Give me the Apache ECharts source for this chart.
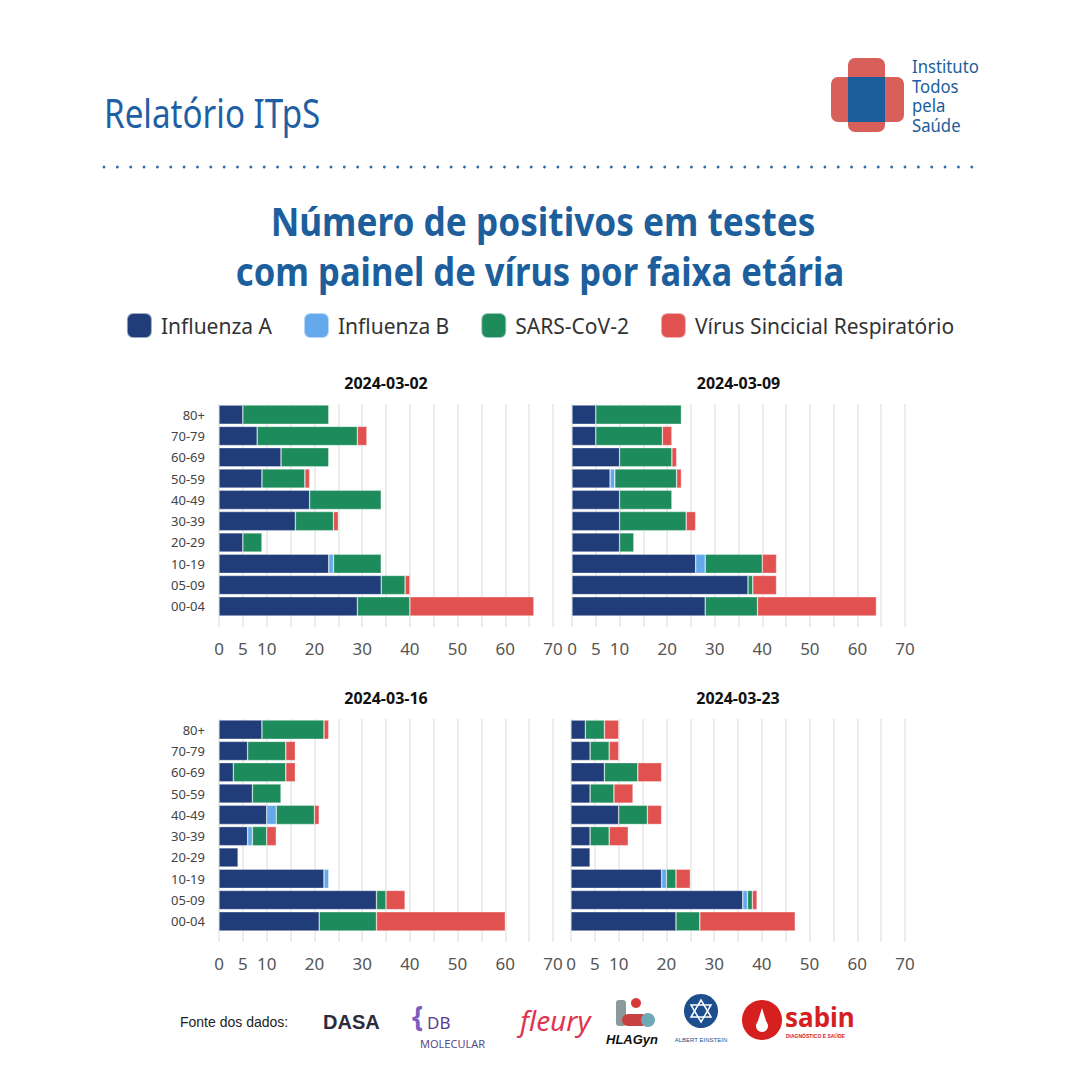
<!DOCTYPE html>
<html>
<head>
<meta charset="utf-8">
<title>Relatório ITpS</title>
<script src="https://cdn.jsdelivr.net/npm/echarts@6/dist/echarts.min.js"></script>
<style>
html, body { margin: 0; padding: 0; background: #fff; }
#main { width: 1080px; height: 1080px; }
</style>
</head>
<body>
<div id="main"></div>
<script>
// faixas etárias, de baixo (00-04) para cima (80+)
var ageGroups = ['00-04', '05-09', '10-19', '20-29', '30-39', '40-49', '50-59', '60-69', '70-79', '80+'];
var weeks = ['2024-03-02', '2024-03-09', '2024-03-16', '2024-03-23'];
var virusNames = ['Influenza A', 'Influenza B', 'SARS-CoV-2', 'Vírus Sincicial Respiratório'];
// rótulos mostrados no eixo x
var xTickLabels = [0, 5, 10, 20, 30, 40, 50, 60, 70];

// semana 2024-03-02
var fluA_0302 = [29, 34, 23, 5, 16, 19, 9, 13, 8, 5];
var fluB_0302 = [0, 0, 1, 0, 0, 0, 0, 0, 0, 0];
var sars_0302 = [11, 5, 10, 4, 8, 15, 9, 10, 21, 18];
var vsr_0302  = [26, 1, 0, 0, 1, 0, 1, 0, 2, 0];

// semana 2024-03-09
var fluA_0309 = [28, 37, 26, 10, 10, 10, 8, 10, 5, 5];
var fluB_0309 = [0, 0, 2, 0, 0, 0, 1, 0, 0, 0];
var sars_0309 = [11, 1, 12, 3, 14, 11, 13, 11, 14, 18];
var vsr_0309  = [25, 5, 3, 0, 2, 0, 1, 1, 2, 0];

// semana 2024-03-16
var fluA_0316 = [21, 33, 22, 4, 6, 10, 7, 3, 6, 9];
var fluB_0316 = [0, 0, 1, 0, 1, 2, 0, 0, 0, 0];
var sars_0316 = [12, 2, 0, 0, 3, 8, 6, 11, 8, 13];
var vsr_0316  = [27, 4, 0, 0, 2, 1, 0, 2, 2, 1];

// semana 2024-03-23
var fluA_0323 = [22, 36, 19, 4, 4, 10, 4, 7, 4, 3];
var fluB_0323 = [0, 1, 1, 0, 0, 0, 0, 0, 0, 0];
var sars_0323 = [5, 1, 2, 0, 4, 6, 5, 7, 4, 4];
var vsr_0323  = [20, 1, 3, 0, 4, 3, 4, 5, 2, 3];

var weekData = [
    [fluA_0302, fluB_0302, sars_0302, vsr_0302],
    [fluA_0309, fluB_0309, sars_0309, vsr_0309],
    [fluA_0316, fluB_0316, sars_0316, vsr_0316],
    [fluA_0323, fluB_0323, sars_0323, vsr_0323]
];

var virusColors = ['#203d7a', '#64a9ec', '#1d8b5b', '#e15150'];
var blue = '#1f5fa3';
var font = "'Noto Sans', sans-serif";

// posição de cada painel
var panels = [
    { left: 219, top: 404, width: 334 },
    { left: 572, top: 404, width: 333 },
    { left: 219, top: 719, width: 334 },
    { left: 571, top: 719, width: 334 }
];

var grids = [], xAxes = [], yAxes = [], series = [];
var graphics = [];

panels.forEach(function (p, i) {
    grids.push({ left: p.left, top: p.top, width: p.width, height: 213, containLabel: false });
    xAxes.push({
        type: 'value', gridIndex: i, min: 0, max: 70, interval: 5,
        axisLine: { show: false },
        axisTick: { show: true, length: 10, lineStyle: { color: '#e6e6e6', width: 1.5 } },
        splitLine: { show: true, lineStyle: { color: '#e6e6e6', width: 1.5 } },
        axisLabel: {
            margin: 23, fontSize: 17, color: '#555', fontFamily: font,
            showMinLabel: true, showMaxLabel: true,
            formatter: function (v) { return xTickLabels.indexOf(v) >= 0 ? String(v) : ''; }
        }
    });
    yAxes.push({
        type: 'category', gridIndex: i, data: ageGroups,
        axisLine: { show: false }, axisTick: { show: false }, splitLine: { show: false },
        axisLabel: { show: i % 2 === 0, margin: 14, fontSize: 13, color: '#444', fontFamily: font }
    });
    weekData[i].forEach(function (arr, v) {
        series.push({
            name: virusNames[v], type: 'bar', stack: 'semana' + i,
            xAxisIndex: i, yAxisIndex: i,
            barCategoryGap: '10%',
            itemStyle: { color: virusColors[v], borderColor: 'rgba(255,255,255,0.55)', borderWidth: 0.6 },
            data: arr.map(function (d) { return d === 0 ? null : d; })
        });
    });
    // título de cada painel
    graphics.push({
        type: 'text', x: p.left + p.width / 2, y: p.top - 21,
        style: { text: weeks[i], fill: '#111', font: 'bold 16px ' + font, textAlign: 'center', textVerticalAlign: 'middle' }
    });
});

// cabeçalho
graphics.push({
    type: 'text', x: 104, y: 113, scaleX: 0.83,
    style: { text: 'Relatório ITpS', fill: blue, font: '40px ' + font, textAlign: 'left', textVerticalAlign: 'middle' }
});
// logo: cruz
graphics.push({ type: 'rect', shape: { x: 831, y: 77, width: 73, height: 45, r: 7 }, style: { fill: '#d95f5a' } });
graphics.push({ type: 'rect', shape: { x: 848, y: 58, width: 37, height: 74, r: 7 }, style: { fill: '#d95f5a' } });
graphics.push({ type: 'rect', shape: { x: 848, y: 77, width: 37, height: 45 }, style: { fill: '#1b5e9b' } });
['Instituto', 'Todos', 'pela', 'Saúde'].forEach(function (t, k) {
    graphics.push({
        type: 'text', x: 912, y: 66 + k * 19.5, scaleX: 0.88,
        style: { text: t, fill: '#1b5e9b', font: '19px ' + font, textAlign: 'left', textVerticalAlign: 'middle' }
    });
});
// linha pontilhada
for (var dx = 104; dx <= 979; dx += 13.35) {
    graphics.push({ type: 'circle', shape: { cx: dx, cy: 167, r: 1.4 }, style: { fill: '#2a6aad' } });
}
// título principal
graphics.push({
    type: 'text', x: 543, y: 221, scaleX: 0.88,
    style: { text: 'Número de positivos em testes', fill: '#1d5f9c', font: 'bold 40px ' + font, textAlign: 'center', textVerticalAlign: 'middle' }
});
graphics.push({
    type: 'text', x: 540, y: 270, scaleX: 0.865,
    style: { text: 'com painel de vírus por faixa etária', fill: '#1d5f9c', font: 'bold 40px ' + font, textAlign: 'center', textVerticalAlign: 'middle' }
});

// rodapé: fontes dos dados
graphics.push({
    type: 'text', x: 180, y: 1022,
    style: { text: 'Fonte dos dados:', fill: '#222', font: "14px 'Liberation Sans', Arial, sans-serif", textAlign: 'left', textVerticalAlign: 'middle' }
});
graphics.push({
    type: 'text', x: 323, y: 1022,
    style: { text: 'DASA', fill: '#2b2b3b', font: "bold 20px 'Liberation Sans', sans-serif", textAlign: 'left', textVerticalAlign: 'middle' }
});
graphics.push({
    type: 'text', x: 412, y: 1016,
    style: { text: '{', fill: '#7b5cc0', font: 'bold 28px ' + font, textAlign: 'left', textVerticalAlign: 'middle' }
});
graphics.push({
    type: 'text', x: 427, y: 1022,
    style: { text: 'DB', fill: '#5a3d8e', font: '17px ' + font, textAlign: 'left', textVerticalAlign: 'middle' }
});
graphics.push({
    type: 'text', x: 420, y: 1043,
    style: { text: 'MOLECULAR', fill: '#5a4a8a', font: '11px ' + font, textAlign: 'left', textVerticalAlign: 'middle' }
});
graphics.push({
    type: 'text', x: 520, y: 1020,
    style: { text: 'fleury', fill: '#e0344f', font: "italic 28px 'Noto Sans', sans-serif", textAlign: 'left', textVerticalAlign: 'middle' }
});
graphics.push({ type: 'rect', shape: { x: 616, y: 1000, width: 10, height: 26, r: 3 }, style: { fill: '#8a9a9a' } });
graphics.push({ type: 'circle', shape: { cx: 636, cy: 1003, r: 5 }, style: { fill: '#d63a3a' } });
graphics.push({ type: 'rect', shape: { x: 622, y: 1014, width: 26, height: 12, r: 6 }, style: { fill: '#c94040' } });
graphics.push({ type: 'circle', shape: { cx: 648, cy: 1020, r: 7 }, style: { fill: '#6fa9b5' } });
graphics.push({
    type: 'text', x: 606, y: 1039,
    style: { text: 'HLAGyn', fill: '#111', font: "italic bold 13px 'Liberation Sans', sans-serif", textAlign: 'left', textVerticalAlign: 'middle' }
});
graphics.push({ type: 'circle', shape: { cx: 701, cy: 1011, r: 17 }, style: { fill: '#1d4f8f' } });
graphics.push({ type: 'polygon', shape: { points: [[701, 1000], [711, 1017], [691, 1017]] }, style: { fill: 'none', stroke: '#fff', lineWidth: 1.5 } });
graphics.push({ type: 'polygon', shape: { points: [[701, 1022], [711, 1005], [691, 1005]] }, style: { fill: 'none', stroke: '#fff', lineWidth: 1.5 } });
graphics.push({
    type: 'text', x: 701, y: 1040,
    style: { text: 'ALBERT EINSTEIN', fill: '#1d4f8f', font: "6px 'Liberation Sans', sans-serif", textAlign: 'center', textVerticalAlign: 'middle' }
});
graphics.push({ type: 'circle', shape: { cx: 762, cy: 1020, r: 20 }, style: { fill: '#d6201f' } });
graphics.push({ type: 'circle', shape: { cx: 762, cy: 1026, r: 6 }, style: { fill: '#fff' } });
graphics.push({ type: 'polygon', shape: { points: [[762, 1008], [757, 1024], [767, 1024]] }, style: { fill: '#fff' } });
graphics.push({
    type: 'text', x: 785, y: 1017,
    style: { text: 'sabin', fill: '#d6201f', font: "bold 26px 'Noto Sans', sans-serif", textAlign: 'left', textVerticalAlign: 'middle' }
});
graphics.push({
    type: 'text', x: 786, y: 1036,
    style: { text: 'DIAGNÓSTICO E SAÚDE', fill: '#d6201f', font: "bold 5px 'Liberation Sans', sans-serif", textAlign: 'left', textVerticalAlign: 'middle' }
});

var myChart = echarts.init(document.getElementById('main'), null, { renderer: 'svg' });
myChart.setOption({
    animation: false,
    backgroundColor: '#fff',
    legend: {
        data: virusNames,
        top: 307, left: 'center',
        itemWidth: 25, itemHeight: 25, itemGap: 31,
        icon: 'roundRect',
        selectedMode: false,
        textStyle: { fontSize: 21, color: '#333', fontFamily: font, padding: [0, 0, 0, 4] }
    },
    grid: grids,
    xAxis: xAxes,
    yAxis: yAxes,
    series: series,
    graphic: graphics
});
</script>
</body>
</html>
